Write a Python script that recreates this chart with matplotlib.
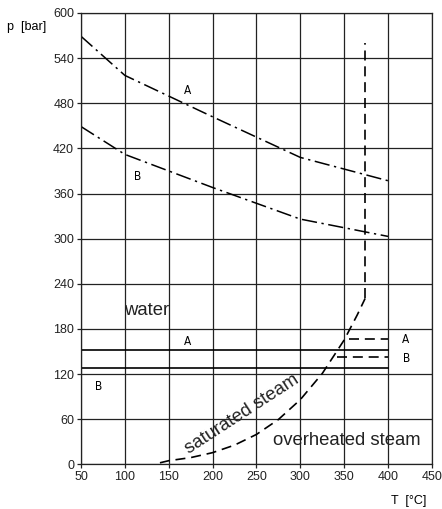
import numpy as np
import matplotlib.pyplot as plt
from matplotlib import font_manager as fm

# dash-dot limit curves
a_upper_t = [50, 100, 200, 300, 400]
a_upper_p = [569, 517, 462, 408, 377]
b_upper_t = [50, 100, 200, 300, 400]
b_upper_p = [449, 412, 368, 326, 303]

# saturation curve (dashed) up to critical point, then vertical
sat_t = [140, 150, 175, 200, 225, 250, 275, 300, 325, 350, 365, 374]
sat_p = [2, 4.8, 8.9, 15.5, 25.5, 39.7, 59.5, 85.9, 120.6, 165.2, 198.7, 220.6]
crit_t = [374, 374]
crit_p = [220.6, 560]

# solid operating lines, dashed continuation in the steam region
a_low_p = 152
b_low_p = 128
a_dash = ([355, 400], [167, 167])
b_dash = ([342, 400], [142, 142])

xticks = [50, 100, 150, 200, 250, 300, 350, 400, 450]
yticks = [0, 60, 120, 180, 240, 300, 360, 420, 480, 540, 600]

plt.rcParams['font.family'] = ['Liberation Sans', 'DejaVu Sans']
tick_fp = fm.FontProperties(family=['Liberation Sans', 'DejaVu Sans'], size=9)
letter_fp = fm.FontProperties(family=['DejaVu Sans'], stretch='condensed', size=8.5)

fig = plt.figure(figsize=(4.42, 5.09), dpi=100)
ax = fig.add_axes([0.1833, 0.0878, 0.7937, 0.8867])

dashdot = (0, (10, 3, 1.5, 3))
dashed = (0, (6, 3.5))
k = 'black'

ax.plot(a_upper_t, a_upper_p, color=k, lw=1.1, linestyle=dashdot)
ax.plot(b_upper_t, b_upper_p, color=k, lw=1.1, linestyle=dashdot)
ax.plot(sat_t, sat_p, color=k, lw=1.2, linestyle=dashed)
ax.plot(crit_t, crit_p, color=k, lw=1.2, linestyle=dashed)
ax.plot([50, 400], [a_low_p, a_low_p], color=k, lw=1.2)
ax.plot([50, 400], [b_low_p, b_low_p], color=k, lw=1.2)
ax.plot(*a_dash, color=k, lw=1.2, linestyle=dashed)
ax.plot(*b_dash, color=k, lw=1.2, linestyle=dashed)

ax.set_xlim(50, 450)
ax.set_ylim(0, 600)
ax.set_xticks(xticks)
ax.set_yticks(yticks)
ax.grid(True, color='#222222', lw=0.9)
for s in ax.spines.values():
    s.set_color('#222222')
    s.set_linewidth(0.9)
ax.tick_params(direction='out', length=3, width=0.9, pad=2, color='#222222')
for lab in ax.get_xticklabels() + ax.get_yticklabels():
    lab.set_fontproperties(tick_fp)
    lab.set_color('#222222')

for t, p, s in [(172, 497, 'A'), (115, 383, 'B'), (172, 163, 'A'),
                (70, 104, 'B'), (420, 166, 'A'), (421, 140, 'B')]:
    ax.text(t, p, s, fontproperties=letter_fp, ha='center', va='center', color=k)

big = dict(fontsize=13.3, color='#222222')
ax.text(125, 205, 'water', ha='center', va='center', **big)
ax.text(234, 67, 'saturated steam', ha='center', va='center', rotation=33,
        rotation_mode='anchor', **big)
ax.text(353, 32, 'overheated steam', ha='center', va='center', **big)

fig.text(0.061, 0.947, 'p  [bar]', ha='center', va='center', fontproperties=tick_fp)
fig.text(0.924, 0.016, 'T  [°C]', ha='center', va='center', fontproperties=tick_fp)

fig.savefig('out.png', dpi=100)
